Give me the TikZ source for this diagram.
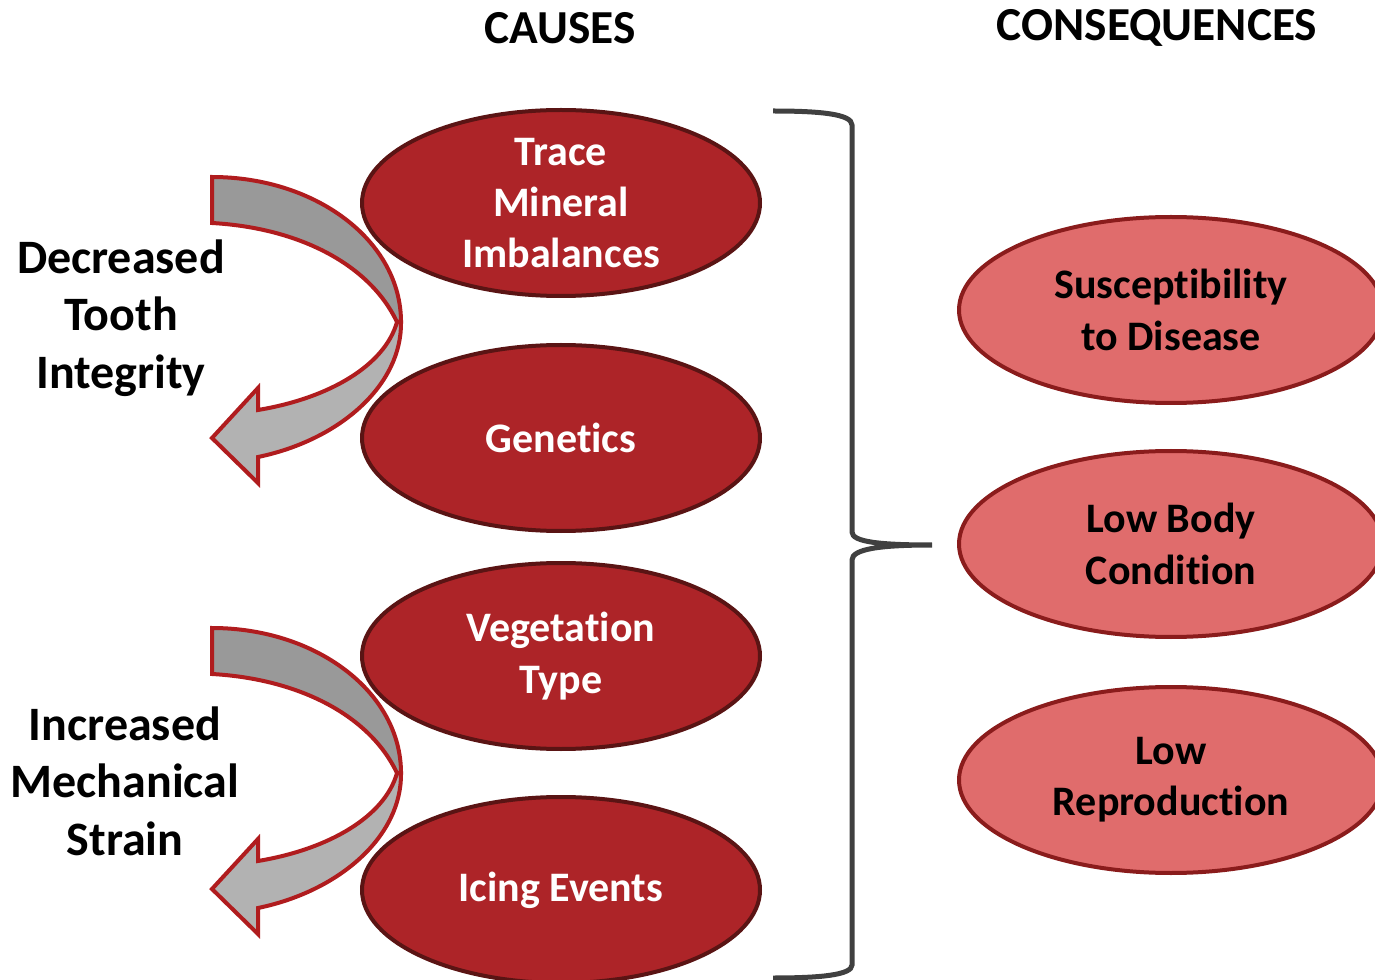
\documentclass[tikz,border=0pt]{standalone}
\usepackage{fontspec}
\setmainfont[Ligatures={NoCommon,NoContextual},RawFeature={-liga;-clig;-calt;-dlig}]{Carlito}
\usetikzlibrary{shapes.geometric}
\newcommand\tisep{\kern0pt\relax}
\definecolor{causefill}{RGB}{173,36,40}
\definecolor{causeline}{RGB}{90,20,20}
\definecolor{consfill}{RGB}{224,108,108}
\definecolor{consline}{RGB}{138,28,28}
\definecolor{backgray}{RGB}{153,153,153}
\definecolor{frontgray}{RGB}{178,178,178}
\definecolor{arrline}{RGB}{176,28,30}
\definecolor{bracecol}{RGB}{64,64,64}
\tikzset{
  cause/.style={ellipse, draw=causeline, fill=causefill, line width=3pt,
    minimum width=298.5pt, minimum height=139.5pt, inner sep=0pt,
    text=white, font=\bfseries\fontsize{31.5}{38.5}\selectfont, align=center},
  conseq/.style={ellipse, draw=consline, fill=consfill, line width=3pt,
    minimum width=318pt, minimum height=139.5pt, inner sep=0pt,
    text=black, font=\bfseries\fontsize{31.5}{38.5}\selectfont, align=center},
  sidelabel/.style={font=\bfseries\fontsize{36}{43}\selectfont, align=center, inner sep=0pt},
  header/.style={font=\bfseries\fontsize{35.5}{42}\selectfont, inner sep=0pt},
  arrband/.style={draw=arrline, line width=3pt, line join=miter},
  bracestyle/.style={draw=bracecol, line width=3.75pt, line join=miter},
  curvedarrow/.pic={
    \path[arrband, fill=backgray] (212,177) .. controls (316,177) and (401,241) .. (401,322)
      -- (397,322) .. controls (370,265) and (300,228) .. (212,223) -- cycle;
    \path[arrband, fill=frontgray] (397,322) -- (401,322) .. controls (402,385) and (340,440) .. (258,457)
      -- (258,483) -- (212,438) -- (258,388) -- (258,410)
      .. controls (330,398) and (385,365) .. (397,322) -- cycle;
  }
}
\begin{document}
\begin{tikzpicture}[x=0.75pt,y=-0.75pt]
\useasboundingbox (0,0) rectangle (1375,980);
\clip (0,0) rectangle (1375,980);

% headers
\node[header] (hcauses) at (560,28) {CAUSES};
\node[header] (hcons) at (1157,28) {CONSEQUENCES};

% curved arrows
\pic (arrowtop) at (0,0) {curvedarrow};
\pic (arrowbot) at (0,451) {curvedarrow};

% cause ellipses
\node[cause] (trace) at (561,203) {Trace\\Mineral\\Imbalances};
\node[cause] (genetics) at (561,438) {Genet\tisep ics};
\node[cause] (veg) at (561,656) {Vegetat\tisep ion\\Type};
\node[cause] (icing) at (561,890) {Icing Events};

% side labels
\node[sidelabel] (tooth) at (121,318) {Decreased\\Tooth\\Integrity};
\node[sidelabel] (strain) at (125,781) {Increased\\Mechanical\\Strain};

% brace
\coordinate (btop) at (773,111);
\coordinate (btip) at (932,545);
\coordinate (bbot) at (773,978);
\path[bracestyle] (btop) .. controls (820,111) and (852,114) .. (852,125)
  -- (852,532) .. controls (852,542) and (880,545) .. (btip)
  .. controls (880,545) and (852,549) .. (852,560)
  -- (852,965) .. controls (852,975) and (820,978) .. (bbot);

% consequence ellipses
\node[conseq] (disease) at (1171,310) {Suscept\tisep ibility\\to Disease};
\node[conseq] (body) at (1171,544) {Low Body\\Condit\tisep ion};
\node[conseq] (repro) at (1171,780) {Low\\Reproduct\tisep ion};
\end{tikzpicture}
\end{document}
